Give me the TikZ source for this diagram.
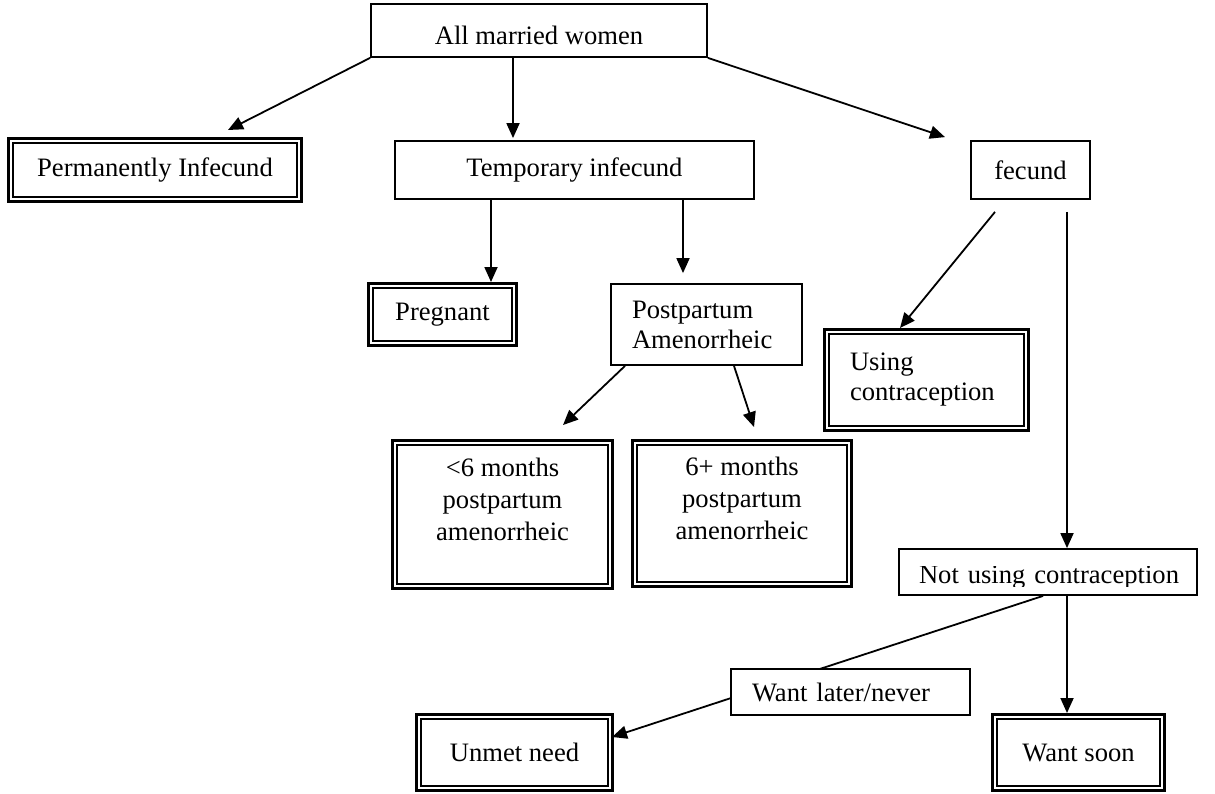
\documentclass[tikz,border=0pt]{standalone}
\usepackage{fontspec}
\setmainfont{Liberation Serif}
\usepackage{trimclip}
\usetikzlibrary{arrows.meta,calc}

\begin{document}
\begin{tikzpicture}[x=1pt,y=-1pt,
  box/.style={rectangle,draw,line width=1.8pt,fill=white,align=center,inner sep=0pt,font=\fontsize{26.6}{30}\selectfont},
  endbox/.style={box,line width=3pt,path picture={\draw[line width=2pt] ([shift={(4.5pt,-4.5pt)}]path picture bounding box.north west) rectangle ([shift={(-4.5pt,4.5pt)}]path picture bounding box.south east);}},
  tallbox/.style={endbox,font=\fontsize{26.6}{32}\selectfont,text depth=30pt},
  arrow/.style={-{Triangle[length=15pt,width=13pt]},line width=1.8pt}
]
\useasboundingbox (0,0) rectangle (1215,793);
\node[box,minimum width=336pt,minimum height=53pt,text height=28pt] (amw) at (539,30.5) {All married women};
\node[endbox,minimum width=293pt,minimum height=63pt] (perm) at (155,170) {Permanently Infecund};
\node[box,minimum width=359pt,minimum height=58pt] (temp) at (574.5,170) {Temporary infecund};
\node[box,minimum width=119pt,minimum height=58pt] (fec) at (1030.5,170) {fecund};
\node[endbox,minimum width=148pt,minimum height=62pt] (preg) at (442.5,314.5) {Pregnant};
\node[box,minimum width=191pt,minimum height=81pt,text width=149pt,align=left] (pp) at (706.5,324.5) {Postpartum\\Amenorrheic};
\node[endbox,minimum width=204pt,minimum height=101pt,text width=153pt,align=left] (use) at (926.5,380) {Using\\contraception};
\node[tallbox,minimum width=220pt,minimum height=148pt] (lt6) at (502.5,514.5) {<6 months\\postpartum\\amenorrheic};
\node[tallbox,minimum width=219pt,minimum height=146pt] (ge6) at (742,513.5) {6+ months\\postpartum\\amenorrheic};
\node[box,minimum width=298pt,minimum height=46pt,text width=258pt,align=left,text height=26pt] (notuse) at (1048,572) {\clipbox{0pt 3.5pt 0pt 0pt}{Not using contraception}};
\node[endbox,minimum width=196pt,minimum height=76pt] (unmet) at (514.5,752.5) {Unmet need};
\node[endbox,minimum width=172pt,minimum height=76pt] (soon) at (1078.5,752.5) {Want soon};

\draw[arrow] (amw.south west) -- ($(perm.north)+(73,-7)$);
\draw[arrow] ($(amw.south)+(-26,0)$) -- ($(temp.north)+(-61.5,-2)$);
\draw[arrow] (amw.south east) -- ($(fec.north)+(-85.5,-3)$);
\draw[arrow] ($(temp.south)+(-83.5,0)$) -- ($(preg.north)+(48.5,0)$);
\draw[arrow] ($(temp.south)+(108.5,0)$) -- ($(pp.north)+(-23.5,-10)$);
\draw[arrow] ($(fec.south)+(-35.5,12)$) -- ($(use.north)+(-26.5,0)$);
\draw[arrow] ($(fec.south)+(36.5,12)$) -- ($(notuse.north)+(19,0)$);
\draw[arrow] ($(pp.south)+(-81.5,0)$) -- ($(lt6.north)+(60.5,-14)$);
\draw[arrow] ($(pp.south)+(27.5,0)$) -- ($(ge6.north)+(12,-12)$);
\draw[arrow] ($(notuse.south)+(-5,0)$) -- ($(unmet.east)+(-2,-15.5)$);
\draw[arrow] ($(notuse.south)+(19,0)$) -- ($(soon.north)+(-11.5,0)$);

\node[box,minimum width=239pt,minimum height=46pt,text width=197pt,align=left] (later) at (850.5,692) {Want later/never};
\end{tikzpicture}
\end{document}
